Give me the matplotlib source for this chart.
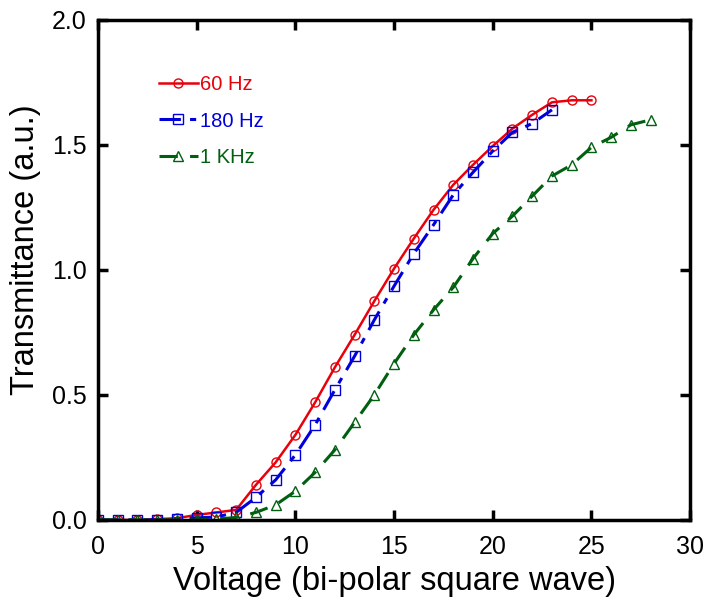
import numpy as np
import matplotlib.pyplot as plt

plt.rcParams['font.family'] = ['Liberation Sans', 'DejaVu Sans']

v60 = list(range(0, 26))
t60 = [0.0, 0.0, 0.0, 0.003, 0.007, 0.02, 0.03, 0.04, 0.14, 0.23, 0.34, 0.47, 0.61,
       0.74, 0.875, 1.005, 1.125, 1.24, 1.34, 1.42, 1.495, 1.565, 1.62, 1.67, 1.678, 1.678]

v180 = list(range(0, 24))
t180 = [0.0, 0.0, 0.0, 0.0, 0.005, 0.008, 0.012, 0.03, 0.09, 0.16, 0.26, 0.38, 0.52,
        0.655, 0.80, 0.935, 1.065, 1.18, 1.30, 1.39, 1.475, 1.55, 1.585, 1.64]

v1k = list(range(0, 29))
t1k = [0.0, 0.0, 0.0, 0.0, 0.0, 0.0, 0.003, 0.01, 0.03, 0.06, 0.115, 0.19, 0.28,
       0.39, 0.50, 0.625, 0.74, 0.84, 0.93, 1.045, 1.145, 1.215, 1.295, 1.375,
       1.42, 1.49, 1.53, 1.58, 1.60]

fig = plt.figure(figsize=(7.1, 5.99), dpi=100)
ax = fig.add_axes([0.138, 0.132, 0.834, 0.835])

ax.plot(v60, t60, color='#e8000b', lw=1.8, marker='o', ms=6.5, mfc='none',
        mec='#e8000b', mew=1.0, label='60 Hz')
ax.plot(v180, t180, color='#0000dd', lw=2.2, ls=(0, (7, 3, 2, 3)), marker='s', ms=6.5,
        mfc='none', mec='#0000dd', mew=1.0, label='180 Hz')
ax.plot(v1k, t1k, color='#006010', lw=2.2, ls=(0, (6, 4)), marker='^', ms=7.5,
        mfc='none', mec='#006010', mew=1.0, label='1 KHz')

ax.set_xlim(0, 30)
ax.set_ylim(0, 2.0)
ax.set_xticks([0, 5, 10, 15, 20, 25, 30])
ax.set_yticks([0.0, 0.5, 1.0, 1.5, 2.0])
ax.set_yticklabels(['0.0', '0.5', '1.0', '1.5', '2.0'])
ax.tick_params(direction='in', length=7, width=2.5, labelsize=18, top=True, right=True, pad=8)
ax.tick_params(axis='x', pad=11)
for s in ax.spines.values():
    s.set_linewidth(2.5)

ax.set_xlabel('Voltage (bi-polar square wave)', fontsize=23.5, labelpad=5)
ax.set_ylabel('Transmittance (a.u.)', fontsize=23.5)
ax.yaxis.set_label_coords(-0.096, 0.54)

leg = ax.legend(loc='upper left', bbox_to_anchor=(0.073, 0.925), frameon=False,
                fontsize=14.5, handlelength=1.9, handletextpad=0.1, labelspacing=0.85)
for txt, line in zip(leg.get_texts(), leg.get_lines()):
    txt.set_color(line.get_color())

fig.savefig('out.png', dpi=100)
